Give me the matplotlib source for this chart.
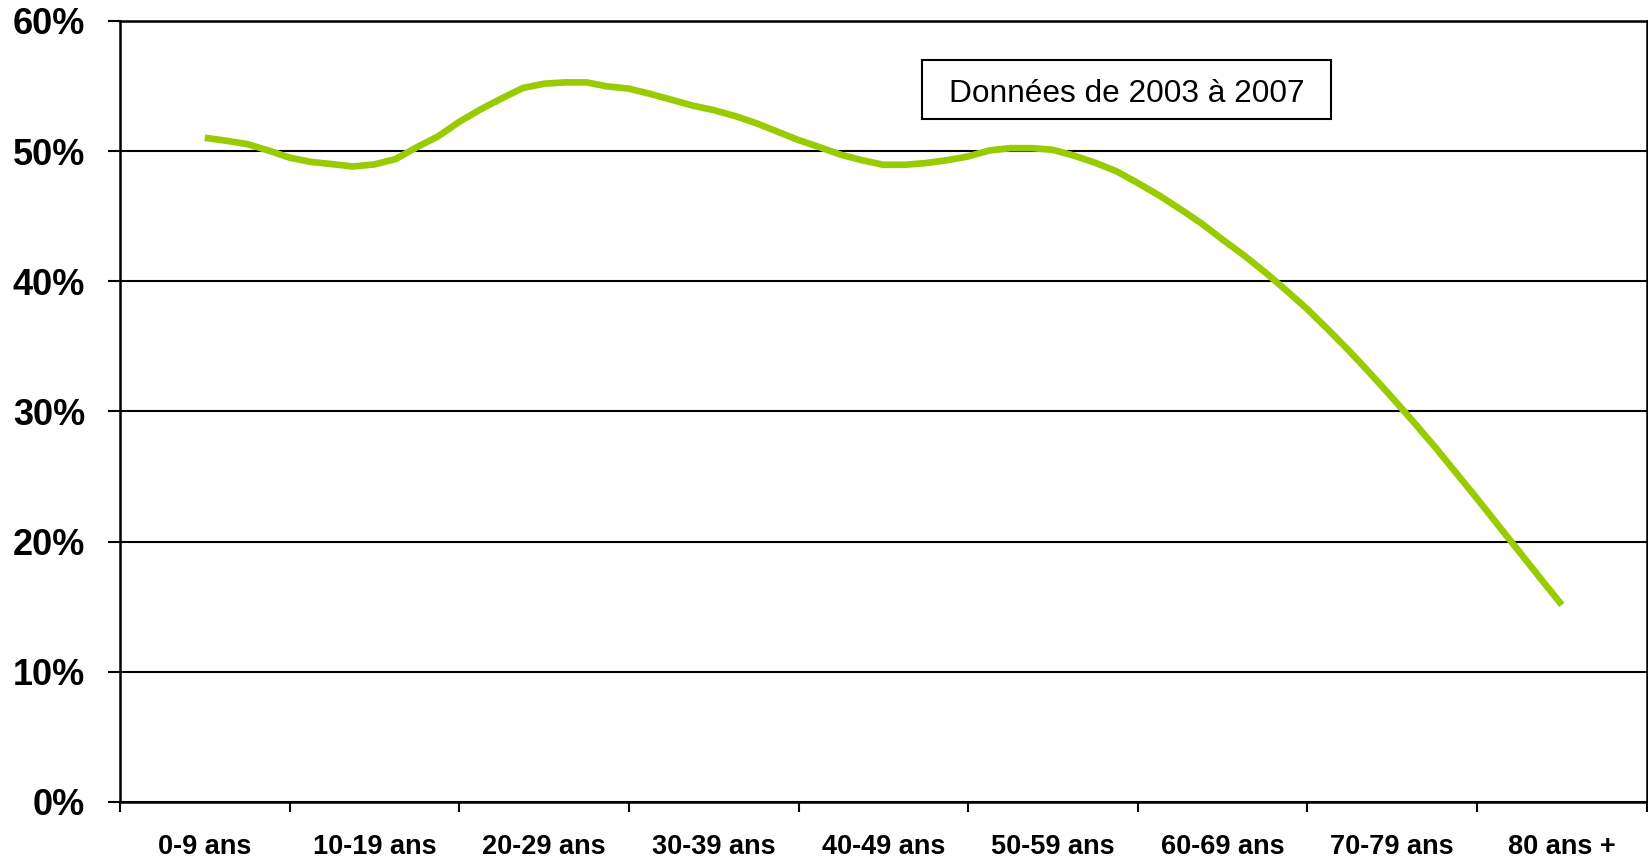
import matplotlib
matplotlib.use("Agg")
import matplotlib.pyplot as plt
from matplotlib.patches import Rectangle
import numpy as np

categories = ["0-9 ans", "10-19 ans", "20-29 ans", "30-39 ans", "40-49 ans",
              "50-59 ans", "60-69 ans", "70-79 ans", "80 ans +"]
y_ticks = [0, 10, 20, 30, 40, 50, 60]
y_tick_labels = ["0%", "10%", "20%", "30%", "40%", "50%", "60%"]
share = [51.03, 50.8, 50.54, 50.05, 49.5, 49.17, 49.0, 48.82, 48.98, 49.39,
         50.3, 51.13, 52.25, 53.2, 54.05, 54.85, 55.18, 55.28, 55.28, 54.97,
         54.8, 54.4, 53.95, 53.5, 53.15, 52.7, 52.15, 51.5, 50.85, 50.3,
         49.72, 49.3, 48.95, 48.95, 49.08, 49.3, 49.59, 50.05, 50.23, 50.23,
         50.1, 49.65, 49.1, 48.45, 47.55, 46.6, 45.55, 44.45, 43.2, 42.0,
         40.7, 39.3, 37.85, 36.25, 34.6, 32.85, 31.05, 29.2, 27.3, 25.3,
         23.3, 21.25, 19.2, 17.15, 15.13]
points_per_category = 8
annotation = "Données de 2003 à 2007"

plt.rcParams['font.family'] = ['Liberation Sans', 'DejaVu Sans']

fig = plt.figure(figsize=(16.48, 8.59), dpi=100)
ax = fig.add_axes([0.0728, 0.0665, 0.9264, 0.9091])

x = np.arange(len(share)) / points_per_category
ax.plot(x, share, color="#99CC00", lw=4.8, solid_joinstyle="round",
        solid_capstyle="butt", zorder=3)

ax.set_xlim(-0.5, len(categories) - 0.5)
ax.set_ylim(0, 60)
ax.set_yticks(y_ticks)
ax.set_yticklabels(y_tick_labels, fontsize=26, fontweight="bold")
ax.set_xticks(np.arange(len(categories)))
ax.set_xticklabels(categories, fontsize=19.5, fontweight="bold")
ax.set_xticks(np.arange(len(categories) + 1) - 0.5, minor=True)

ax.tick_params(axis="x", which="major", length=0, pad=23)
ax.tick_params(axis="x", which="minor", length=7, width=1.5, direction="out")
ax.tick_params(axis="y", which="major", length=9, width=1.5, direction="out", pad=16)

ax.yaxis.grid(True, color="black", lw=1.5)
ax.set_axisbelow(True)
for s in ax.spines.values():
    s.set_linewidth(1.8)
    s.set_color("black")

ax.add_patch(Rectangle((0.5253, 0.8745), 0.7932 - 0.5253, 0.9501 - 0.8745,
                       transform=ax.transAxes, fc="white", ec="black", lw=1.5,
                       zorder=4))
ax.text(0.6593, 0.907, annotation, fontsize=22.8, ha="center", va="center",
        transform=ax.transAxes, zorder=5)

fig.savefig("out.png", dpi=100)
